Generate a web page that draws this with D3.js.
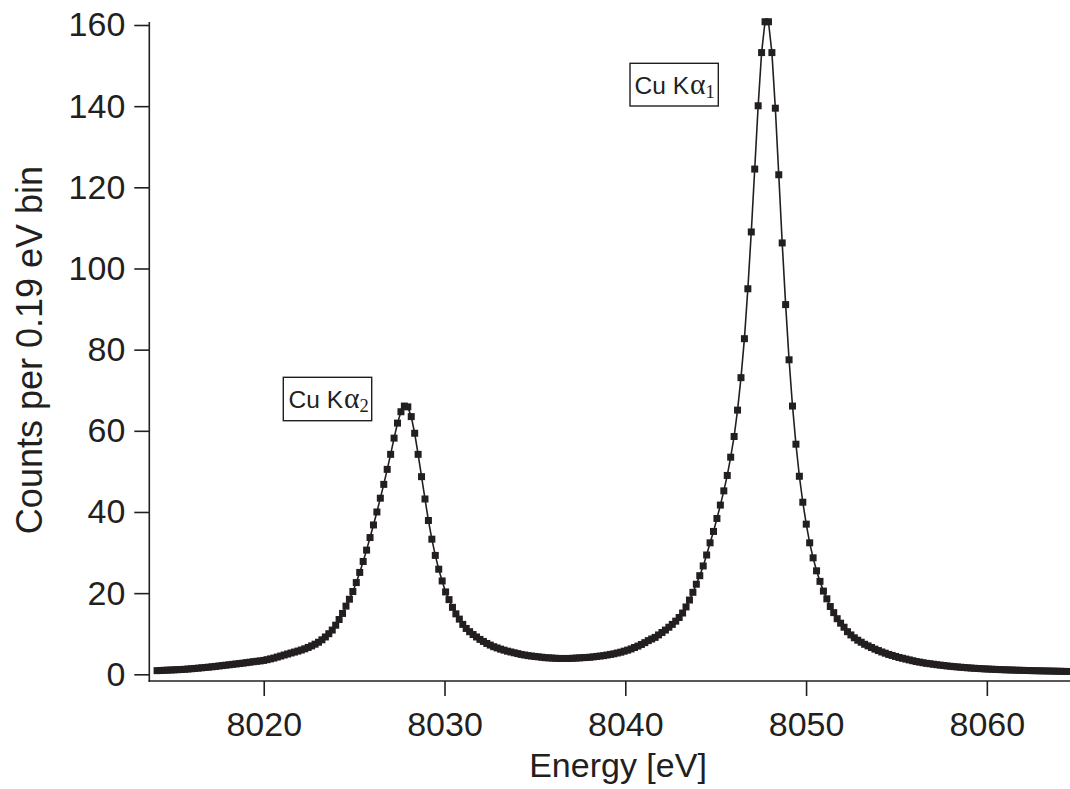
<!DOCTYPE html>
<html>
<head>
<meta charset="utf-8">
<script src="https://cdn.jsdelivr.net/npm/d3@7"></script>
<style>
  html, body { margin: 0; padding: 0; background: #fff; }
  svg { display: block; }
</style>
</head>
<body>
<svg id="chart" width="1070" height="789"></svg>
<script>
// ---- data ----
const binStart = 8014.1;   // eV, energy of first bin
const binWidth = 0.19;     // eV per bin
const counts = [
  0.90, 0.94, 0.98, 1.02, 1.06, 1.10, 1.14, 1.18, 1.23, 1.30,
  1.37, 1.44, 1.52, 1.60, 1.68, 1.76, 1.85, 1.94, 2.05, 2.15,
  2.25, 2.35, 2.45, 2.55, 2.65, 2.75, 2.87, 2.98, 3.10, 3.20,
  3.30, 3.42, 3.60, 3.80, 4.00, 4.25, 4.50, 4.75, 5.00, 5.25,
  5.48, 5.72, 5.98, 6.28, 6.62, 7.00, 7.42, 7.90, 8.50, 9.20,
  10.0, 10.9, 12.1, 13.5, 15.0, 16.8, 18.5, 20.4, 22.6, 25.1,
  27.8, 30.6, 33.7, 36.8, 40.0, 43.4, 46.8, 50.5, 54.2, 58.2,
  61.9, 64.7, 66.1, 65.9, 63.5, 59.4, 54.2, 48.7, 43.2, 37.9,
  33.3, 29.3, 25.9, 23.0, 20.3, 18.4, 16.5, 14.9, 13.6, 12.3,
  11.3, 10.5, 9.8, 9.2, 8.6, 8.1, 7.6, 7.2, 6.8, 6.5,
  6.2, 5.95, 5.7, 5.5, 5.3, 5.1, 4.9, 4.75, 4.6, 4.5,
  4.4, 4.3, 4.2, 4.1, 4.05, 4.0, 3.95, 3.9, 3.9, 3.9,
  3.9, 3.95, 4.0, 4.05, 4.1, 4.15, 4.2, 4.3, 4.4, 4.5,
  4.6, 4.75, 4.9, 5.05, 5.25, 5.45, 5.7, 5.95, 6.25, 6.6,
  6.95, 7.35, 7.8, 8.3, 8.7, 9.1, 9.7, 10.3, 10.9, 11.6,
  12.3, 13.1, 14.0, 15.1, 16.6, 18.3, 20.2, 22.2, 24.3, 26.7,
  29.4, 32.4, 35.2, 38.4, 41.7, 45.2, 49.0, 53.5, 58.6, 65.1,
  73.1, 82.7, 95.0, 109.0, 124.5, 140.1, 153.2, 160.8, 160.8, 153.2,
  139.5, 123.1, 106.3, 91.1, 77.5, 66.1, 56.7, 48.8, 42.4, 37.0,
  32.4, 28.7, 25.5, 22.9, 20.5, 18.6, 16.7, 15.2, 13.7, 12.6,
  11.6, 10.5, 9.7, 9.0, 8.4, 7.9, 7.4, 7.0, 6.6, 6.2,
  5.85, 5.5, 5.2, 4.9, 4.65, 4.4, 4.15, 3.95, 3.75, 3.55,
  3.35, 3.15, 3.0, 2.85, 2.7, 2.6, 2.48, 2.37, 2.26, 2.16,
  2.06, 1.97, 1.89, 1.81, 1.74, 1.67, 1.6, 1.54, 1.48, 1.43,
  1.38, 1.33, 1.29, 1.25, 1.21, 1.17, 1.14, 1.11, 1.08, 1.05,
  1.02, 0.99, 0.97, 0.94, 0.92, 0.90, 0.88, 0.86, 0.84, 0.82,
  0.80, 0.78, 0.76, 0.74, 0.72, 0.70
];
const xTickValues = [8020, 8030, 8040, 8050, 8060];
const yTickValues = [0, 20, 40, 60, 80, 100, 120, 140, 160];
const xTitle = "Energy [eV]";
const yTitle = "Counts per 0.19 eV bin";
const peakNames = ["Cu K", "Cu K"];
const peakGreek = ["α", "α"];
const peakSubs = ["2", "1"];

// ---- layout ----
const ink = "#231f20";
const sans = "'Liberation Sans', Arial, Helvetica, sans-serif";
const serif = "'Liberation Serif', 'Times New Roman', serif";
const svg = d3.select("#chart");

const x = d3.scaleLinear().domain([8013.67, 8064.6]).range([149.3, 1070]);
const y = d3.scaleLinear().domain([0, 160]).range([674.3, 25]);
const axisY0 = 681;   // x-axis baseline (detached below zero)
const yAxisTop = 22;

const pts = counts.map((c, i) => ({ e: binStart + i * binWidth, c }));

// axes
const gx = svg.append("g").attr("transform", `translate(0,${axisY0})`)
  .call(d3.axisBottom(x).tickValues(xTickValues).tickSize(15).tickSizeOuter(0).tickPadding(16).tickFormat(d3.format("d")));
gx.select(".domain").remove();
gx.selectAll(".tick line").attr("stroke", ink).attr("stroke-width", 1.6);
gx.selectAll(".tick text").attr("fill", ink).style("font-family", sans).style("font-size", "34px");

const gy = svg.append("g").attr("transform", `translate(149.3,0)`)
  .call(d3.axisLeft(y).tickValues(yTickValues).tickSize(15).tickSizeOuter(0).tickPadding(9).tickFormat(d3.format("d")));
gy.select(".domain").remove();
gy.selectAll(".tick line").attr("stroke", ink).attr("stroke-width", 1.6);
gy.selectAll(".tick text").attr("fill", ink).style("font-family", sans).style("font-size", "34px");

svg.append("line").attr("x1", 149.3).attr("x2", 149.3).attr("y1", yAxisTop).attr("y2", axisY0 + 0.8)
  .attr("stroke", ink).attr("stroke-width", 1.6);
svg.append("line").attr("x1", 148.5).attr("x2", 1070).attr("y1", axisY0).attr("y2", axisY0)
  .attr("stroke", ink).attr("stroke-width", 1.6);

// titles
svg.append("text").attr("x", 618).attr("y", 777).attr("text-anchor", "middle")
  .attr("fill", ink).style("font-family", sans).style("font-size", "34px").text(xTitle);
svg.append("text").attr("transform", "translate(42,350) rotate(-90)").attr("text-anchor", "middle")
  .attr("fill", ink).style("font-family", sans).style("font-size", "36px").text(yTitle);

// data line + markers
const line = d3.line().x(d => x(d.e)).y(d => y(d.c));
svg.append("path").datum(pts).attr("d", line).attr("fill", "none")
  .attr("stroke", ink).attr("stroke-width", 1.6);
const ms = 7;
svg.append("g").selectAll("rect").data(pts).join("rect")
  .attr("x", d => x(d.e) - ms / 2).attr("y", d => y(d.c) - ms / 2)
  .attr("width", ms).attr("height", ms).attr("fill", ink);

// annotations (boxes)
const boxes = [
  { left: 283.3, top: 377.3, w: 88.4, h: 43.4, tx: 288.5, ty: 407.5, fs: 24.5 },
  { left: 630, top: 63.3, w: 88.3, h: 42.7, tx: 634.5, ty: 93.5, fs: 24.5 }
];
boxes.forEach((b, k) => {
  svg.append("rect").attr("x", b.left).attr("y", b.top).attr("width", b.w).attr("height", b.h)
    .attr("fill", "#fff").attr("stroke", ink).attr("stroke-width", 1.4);
  const t = svg.append("text").attr("x", b.tx).attr("y", b.ty).attr("fill", ink);
  t.append("tspan").style("font-family", sans).style("font-size", b.fs + "px").text(peakNames[k]);
  t.append("tspan").style("font-family", serif).style("font-size", (b.fs + 5) + "px").attr("dx", 1).text(peakGreek[k]);
  t.append("tspan").style("font-family", serif).style("font-size", (b.fs - 6) + "px").attr("dy", 4).text(peakSubs[k]);
});
</script>
</body>
</html>
